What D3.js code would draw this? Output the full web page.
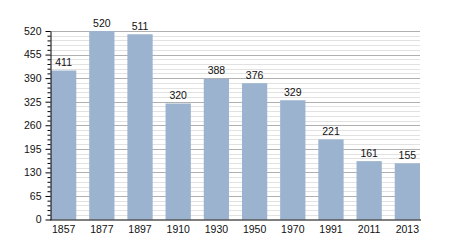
<!DOCTYPE html>
<html><head><meta charset="utf-8">
<script src="https://cdn.jsdelivr.net/npm/d3@7"></script>
<style>body{margin:0;background:#fff;} text{font-family:"Liberation Sans",Arial,sans-serif;}</style>
</head><body><svg id="c" width="450" height="250"></svg>
<script>
const years = ["1857","1877","1897","1910","1930","1950","1970","1991","2011","2013"];
const population = [411,520,511,320,388,376,329,221,161,155];
const yTicks = [0,65,130,195,260,325,390,455,520];
const minorStep = 13;

const svg = d3.select("#c");
const x0 = 50, x1 = 420, yTop = 31, yBot = 219.5;
const x = d3.scaleBand().domain(years).range([x0+1, x1]).paddingInner(0.338).paddingOuter(0);
const y = d3.scaleLinear().domain([0,520]).range([yBot, yTop]);

const minor = d3.range(0, 520 + 1, minorStep).filter(v => v % 65 !== 0);
svg.append("g").selectAll("line").data(minor).join("line")
  .attr("x1", x0).attr("x2", x1).attr("y1", d=>Math.round(y(d))+0.5).attr("y2", d=>Math.round(y(d))+0.5)
  .attr("stroke", "#e2e2e2").attr("stroke-width", 1);
svg.append("g").selectAll("line").data(yTicks.filter(v=>v>0)).join("line")
  .attr("x1", x0).attr("x2", x1).attr("y1", d=>Math.round(y(d))+0.5).attr("y2", d=>Math.round(y(d))+0.5)
  .attr("stroke", "#b0b0b0").attr("stroke-width", 1);

svg.append("g").selectAll("rect").data(population).join("rect")
  .attr("x", (d,i)=>x(years[i])).attr("width", x.bandwidth())
  .attr("y", d=>y(d)).attr("height", d=>yBot - y(d))
  .attr("fill", "#9bb3cf");

svg.append("g").selectAll("text").data(population).join("text")
  .attr("x", (d,i)=>x(years[i]) + x.bandwidth()/2).attr("y", d=>y(d) - 4.5)
  .attr("text-anchor","middle").attr("font-size","10.5px").attr("fill","#111").text(d=>d);

// y axis
const yAxis = d3.axisLeft(y).tickValues(yTicks).tickSize(5).tickPadding(4).tickSizeOuter(0);
const gy = svg.append("g").attr("transform",`translate(${x0+0.5},0)`).call(yAxis);
gy.select(".domain").attr("stroke","#000");
gy.selectAll(".tick line").attr("stroke","#000");
gy.selectAll("text").attr("font-size","10.5px").attr("fill","#111").attr("font-family","Liberation Sans, Arial, sans-serif");
const gm = svg.append("g").attr("transform",`translate(${x0+0.5},0)`)
  .call(d3.axisLeft(y).tickValues(minor).tickSize(3).tickFormat(""));
gm.select(".domain").remove();
gm.selectAll(".tick line").attr("stroke","#000");

// x axis
const xAxis = d3.axisBottom(x).tickSize(0).tickPadding(6).tickSizeOuter(0);
const gx = svg.append("g").attr("transform",`translate(0,${yBot+0.5})`).call(xAxis);
gx.select(".domain").attr("stroke","#000").attr("d", `M${x0},0H${x1+1}`);
gx.selectAll("text").attr("font-size","10.5px").attr("fill","#111").attr("font-family","Liberation Sans, Arial, sans-serif");
</script></body></html>
